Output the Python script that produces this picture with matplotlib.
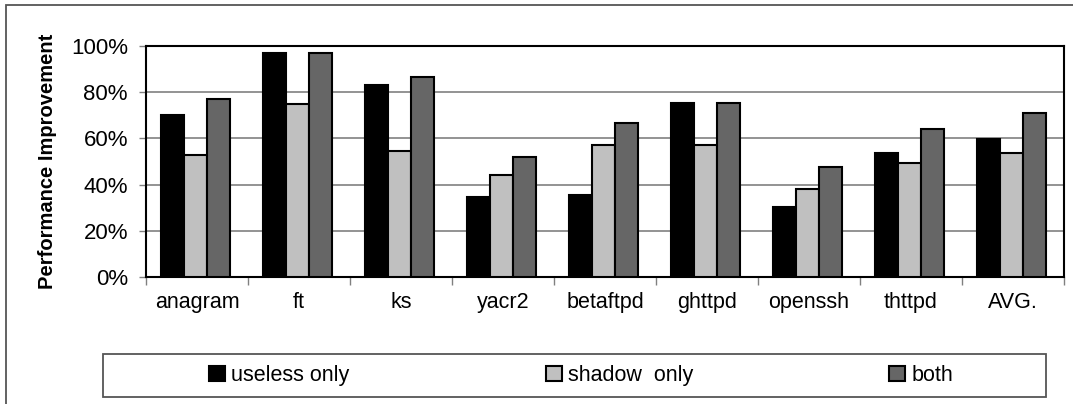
import matplotlib.pyplot as plt
from matplotlib.patches import Rectangle
from matplotlib.ticker import FuncFormatter
import numpy as np

plt.rcParams['font.family'] = ['Liberation Sans', 'DejaVu Sans']

categories = ['anagram', 'ft', 'ks', 'yacr2', 'betaftpd', 'ghttpd', 'openssh', 'thttpd', 'AVG.']
useless_only = [70, 97, 83, 34.6, 35.6, 75.3, 30.3, 53.7, 59.9]
shadow_only = [52.6, 75, 54.4, 44, 57, 57, 38, 49.2, 53.5]
both = [77, 97, 86.4, 52, 66.5, 75.3, 47.6, 64, 70.8]

series_names = ['useless only', 'shadow  only', 'both']
series_colors = ['#000000', '#c0c0c0', '#666666']

W, H = 1073, 404
fig = plt.figure(figsize=(W / 100, H / 100), dpi=100)
ax = fig.add_axes([146 / W, 1 - 277 / H, (1064 - 146) / W, (277 - 46) / H])

x = np.arange(len(categories))
bw = 0.226
for i, (vals, name, col) in enumerate(zip([useless_only, shadow_only, both], series_names, series_colors)):
    ax.bar(x + (i - 1) * bw - 0.015, vals, bw, color=col, edgecolor='black', linewidth=1.5,
           label=name, zorder=3)

ax.set_xlim(-0.5, len(categories) - 0.5)
ax.set_ylim(0, 100)
ax.set_yticks(np.arange(0, 101, 20))
ax.yaxis.set_major_formatter(FuncFormatter(lambda v, p: '%d%%' % v))
ax.yaxis.grid(True, color='#808080', linewidth=1.2, zorder=0)
ax.set_axisbelow(True)

# category labels between boundary ticks
ax.set_xticks(np.arange(-0.5, len(categories), 1))
ax.set_xticklabels([])
ax.set_xticks(x, minor=True)
ax.set_xticklabels(categories, minor=True, fontsize=15.5)
ax.tick_params(axis='x', which='minor', length=0, pad=11)
ax.tick_params(axis='x', which='major', length=6, width=1, color='#808080')
ax.tick_params(axis='y', length=5, width=1, color='#808080', labelsize=16, pad=8)

for s in ax.spines.values():
    s.set_color('black')
    s.set_linewidth(1.5)

ax.set_ylabel('Performance Improvement', fontsize=14.5, fontweight='bold', labelpad=10)

# outer chart frame
fig.add_artist(Rectangle((6 / W, -0.05), 1.2, 1 - 5 / H + 0.05, transform=fig.transFigure,
                         fill=False, edgecolor='#555555', linewidth=1.3))

# legend box
fig.add_artist(Rectangle((103 / W, 1 - 397 / H), (1046 - 103) / W, (397 - 354) / H,
                         transform=fig.transFigure, fill=False, edgecolor='#555555', linewidth=1.3))
handles, labels = ax.get_legend_handles_labels()
fig.legend(handles, labels, ncol=3, frameon=False, fontsize=15.5,
           loc='center left', bbox_to_anchor=(198 / W, 1 - 375.5 / H),
           handlelength=0.75, handleheight=0.75, handletextpad=0.3, columnspacing=9.1,
           borderpad=0)

fig.savefig('out.png', dpi=100)
